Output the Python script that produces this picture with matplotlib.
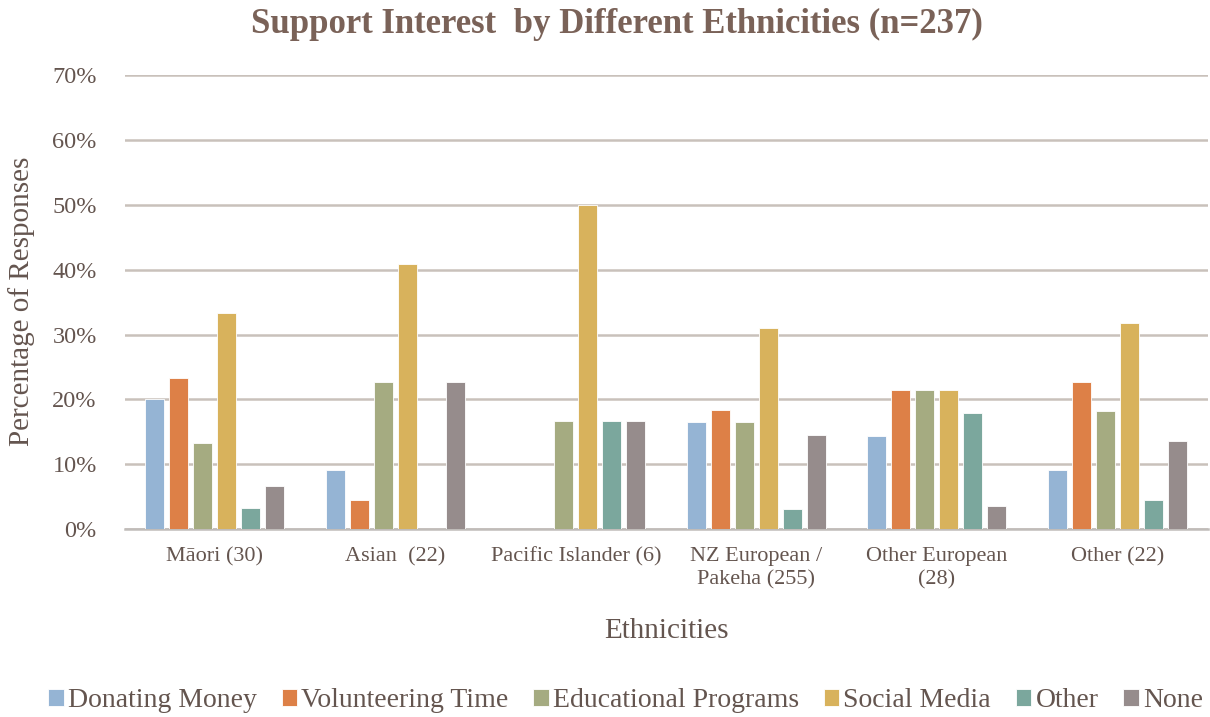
import matplotlib
matplotlib.use('Agg')
import matplotlib.pyplot as plt
import numpy as np

# survey groups and share of responses per support type (%)
groups = ['Māori (30)', 'Asian  (22)', 'Pacific Islander (6)',
          'NZ European /\nPakeha (255)', 'Other European\n(28)', 'Other (22)']
donating = [20.0, 9.1, 0.0, 16.5, 14.3, 9.1]
volunteering = [23.3, 4.5, 0.0, 18.4, 21.4, 22.7]
educational = [13.3, 22.7, 16.7, 16.5, 21.4, 18.2]
social = [33.3, 40.9, 50.0, 31.0, 21.4, 31.8]
other = [3.3, 0.0, 16.7, 3.1, 17.9, 4.5]
none = [6.7, 22.7, 16.7, 14.5, 3.6, 13.6]

series = [('Donating Money', donating, '#95b4d4'),
          ('Volunteering Time', volunteering, '#dd8047'),
          ('Educational Programs', educational, '#a5ab81'),
          ('Social Media', social, '#d8b25c'),
          ('Other', other, '#7ba79d'),
          ('None', none, '#968c8c')]

text_col = '#64554f'
plt.rcParams['font.family'] = ['Liberation Serif', 'DejaVu Serif']

fig = plt.figure(figsize=(12.1, 7.17), dpi=100)
ax = fig.add_axes([0.103, 0.262, 0.895, 0.633])

x = np.arange(len(groups))
step = 0.133
width = 0.105
for i, (name, vals, col) in enumerate(series):
    ax.bar(x + (i - 2.5) * step, vals, width, color=col, label=name,
           edgecolor='white', linewidth=0.6, zorder=3)

ax.set_xlim(-0.5, len(groups) - 0.5)
ax.set_ylim(0, 70)
ax.set_yticks(np.arange(0, 71, 10))
ax.set_yticklabels(['%d%%' % v for v in range(0, 71, 10)])
ax.set_xticks(x)
ax.set_xticklabels(groups)
ax.yaxis.grid(True, color='#c9c1bb', linewidth=1.8, zorder=0)
ax.set_axisbelow(True)
for s in ['top', 'right', 'left']:
    ax.spines[s].set_visible(False)
ax.spines['bottom'].set_color('#c0bcb9')
ax.spines['bottom'].set_linewidth(1.8)
ax.tick_params(axis='y', length=0, pad=20, labelsize=17.5, labelcolor=text_col)
ax.tick_params(axis='x', length=0, pad=13, labelsize=16, labelcolor=text_col)
for lbl in ax.get_xticklabels():
    lbl.set_linespacing(1.3)

ax.set_xlabel('Ethnicities', fontsize=21, color=text_col, labelpad=20)
fig.text(0.018, 0.58, 'Percentage of Responses', rotation=90, fontsize=21,
         color=text_col, ha='center', va='center')
fig.text(0.51, 0.966, 'Support Interest  by Different Ethnicities (n=237)',
         fontsize=25, fontweight='bold', color='#7a6258', ha='center', va='center')

fig.legend(loc='center', bbox_to_anchor=(0.517, 0.023), ncol=6, frameon=False,
           fontsize=20, labelcolor=text_col, handlelength=0.55, handleheight=0.55,
           handletextpad=0.15, columnspacing=0.9)

fig.savefig('out.png', dpi=100)
